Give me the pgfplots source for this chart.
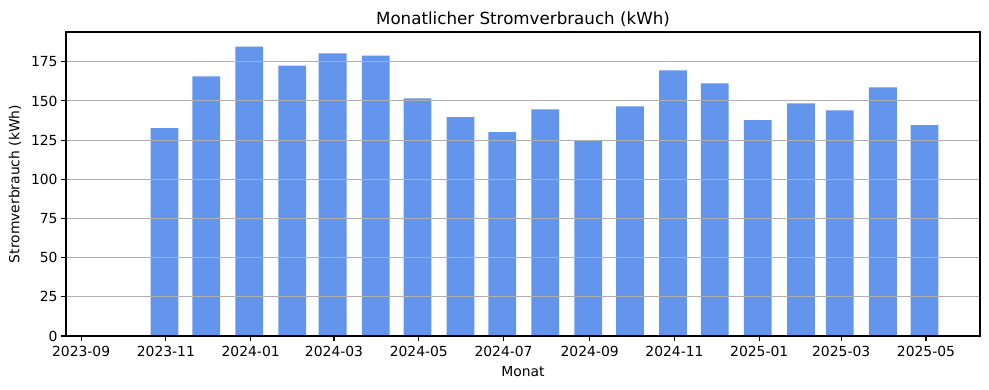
\documentclass[border=0pt]{standalone}
\usepackage{pgfplots}
\pgfplotsset{compat=1.18}
\usepackage{fontspec}
\setmainfont{DejaVu Sans}
\definecolor{barblue}{HTML}{6495ED}
\definecolor{gridgray}{HTML}{B0B0B0}
\begin{document}
\begin{tikzpicture}
\useasboundingbox (-66bp,-54bp) rectangle (923bp,336bp);
\begin{axis}[
  scale only axis,
  width=914bp, height=304bp,
  xmin=-10.9, xmax=646.9,
  ymin=0, ymax=194,
  axis on top,
  ymajorgrids,
  grid style={color=gridgray, line width=1.1bp},
  axis line style={line width=1.1bp, black},
  tick style={line width=1.1bp, black},
  tick align=outside,
  major tick length=4.9bp,
  xtick pos=bottom, ytick pos=left,
  ytick={0,25,50,75,100,125,150,175},
  xtick={0,61,122,182,243,304,366,427,488,547,608},
  xticklabels={2023-09,2023-11,2024-01,2024-03,2024-05,2024-07,2024-09,2024-11,2025-01,2025-03,2025-05},
  /pgf/number format/assume math mode=true,
  ticklabel style={font=\fontsize{13.9bp}{16bp}\selectfont},
  xticklabel style={yshift=-1.5bp},
  title={Monatlicher Stromverbrauch (kWh)},
  title style={font=\fontsize{16.7bp}{20bp}\selectfont, at={(0.5,1)}, anchor=base, yshift=2bp},
  xlabel={Monat},
  xlabel style={font=\fontsize{13.9bp}{16bp}\selectfont, at={(0.5,0)}, anchor=base, yshift=-40bp},
  ylabel={Stromverbrauch (kWh)},
  ylabel style={font=\fontsize{13.9bp}{16bp}\selectfont, at={(0,0.5)}, anchor=center, yshift=51bp},
]
\addplot[ybar, bar width=20, bar shift=0pt, fill=barblue, draw=none] coordinates {
(29,0)
(60,132.6)
(90,165.7)
(121,184.7)
(152,172.6)
(181,180.3)
(212,179.0)
(242,151.7)
(273,139.6)
(303,130.1)
(334,144.6)
(365,124.3)
(395,146.6)
(426,169.5)
(456,161.2)
(487,137.7)
(518,148.5)
(546,144.0)
(577,158.7)
(607,134.5)
};
\end{axis}
\end{tikzpicture}
\end{document}
